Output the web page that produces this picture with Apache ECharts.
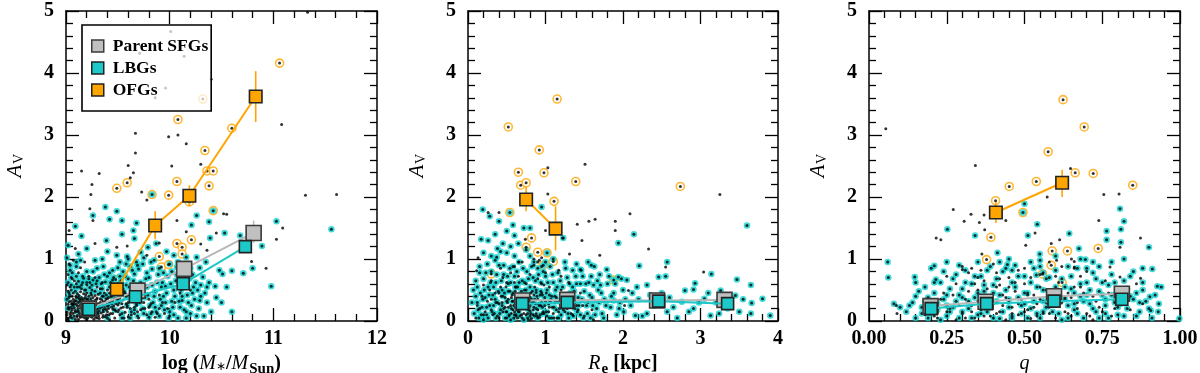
<!DOCTYPE html>
<html><head><meta charset="utf-8">
<script src="https://cdn.jsdelivr.net/npm/echarts@6/dist/echarts.min.js"></script>
<style>html,body{margin:0;padding:0;background:#fff}#c{width:1200px;height:373px}</style>
</head><body><div id="c"></div>
<script>
// ---------------- Panel 1: stellar mass ----------------
const p1_sfg = [[11.33,4.98],[10.01,4.67],[9.71,4.32],[10.14,4.27],[10.40,3.90],[9.96,3.76],[9.86,3.60],[11.08,3.17],[9.67,3.03],[10.08,3.00],[9.99,2.97],[10.16,2.86],[9.67,2.71],[9.15,2.42],[9.32,2.38],[9.60,2.51],[9.65,2.39],[9.62,2.31],[9.25,2.20],[10.02,2.50],[10.30,2.53],[9.24,2.04],[9.73,2.08],[9.78,1.95],[11.31,2.03],[11.61,2.04],[11.09,1.50],[11.03,1.32],[10.79,0.96],[10.93,0.85],[10.07,1.62],[10.52,1.73],[10.55,1.72],[9.23,1.81],[9.26,1.62],[9.03,1.46],[9.09,1.17],[9.28,1.25],[9.49,1.19],[9.59,1.21],[9.90,1.26],[9.78,1.06],[10.36,1.14],[10.45,1.42],[10.16,1.44],[10.30,1.24],
[9.02,0.05],[9.04,0.12],[9.05,0.22],[9.03,0.31],[9.06,0.40],[9.02,0.48],[9.08,0.08],[9.09,0.17],[9.1,0.27],[9.07,0.35],[9.11,0.44],[9.12,0.03],[9.13,0.12],[9.14,0.21],[9.12,0.30],[9.15,0.38],[9.16,0.07],[9.17,0.16],[9.18,0.26],[9.16,0.33],[9.19,0.42],[9.2,0.02],[9.21,0.11],[9.22,0.29],[9.24,0.36],[9.25,0.06],[9.26,0.15],[9.27,0.24],[9.25,0.32],[9.28,0.41],[9.29,0.09],[9.3,0.19],[9.31,0.28],[9.32,0.04],[9.33,0.36],[9.34,0.13],[9.35,0.23],[9.36,0.31],[9.37,0.45],[9.38,0.07],[9.39,0.18],[9.4,0.27],[9.41,0.38],[9.43,0.12],[9.44,0.22],[9.45,0.33],[9.47,0.05],[9.48,0.16],[9.5,0.26],[9.52,0.1],[9.53,0.21],[9.55,0.34],[9.57,0.14],[9.58,0.28],[9.6,0.07],[9.62,0.2],[9.64,0.31],[9.66,0.12],[9.68,0.25],[9.7,0.05],[9.72,0.18],[9.75,0.3],[9.78,0.1],[9.8,0.22],[9.83,0.15],[9.86,0.06],[9.9,0.2],[9.95,0.12],[10.0,0.08],[9.04,0.55],[9.1,0.6],[9.06,0.68],[9.15,0.52],[9.2,0.58],[9.25,0.5],[9.3,0.55],[9.35,0.62],[9.28,0.7],[9.4,0.5],[9.45,0.58],[9.02,0.75],[9.12,0.78],[9.22,0.72],[9.5,0.45],[9.55,0.52],[9.6,0.42],[9.65,0.48],[9.7,0.4],[9.8,0.35],[9.9,0.42],[10.05,0.3],[10.1,0.45],[10.2,0.5],[9.02,0.02],[9.05,0.15],[9.08,0.28],[9.1,0.38],[9.14,0.47],[9.18,0.05],[9.22,0.19],[9.27,0.03],[9.3,0.37],[9.34,0.27],[9.38,0.32],[9.42,0.02],[9.46,0.42],[9.03,0.92],[9.07,0.98],[9.14,0.86],[9.18,0.95],
[9.01,0.1],[9.03,0.19],[9.06,0.27],[9.09,0.33],[9.11,0.09],[9.13,0.25],[9.17,0.36],[9.19,0.13],[9.21,0.24],[9.23,0.08],[9.24,0.17],[9.28,0.2],[9.31,0.12],[9.33,0.21],[9.36,0.09],[9.4,0.15],[9.42,0.3],[9.46,0.24],[9.49,0.36],[9.51,0.18],[9.54,0.28],[9.56,0.05],[9.59,0.22],[9.63,0.1],[9.67,0.36],
[9.01,0.14],[9.02,0.27],[9.03,0.38],[9.04,0.06],[9.05,0.32],[9.06,0.18],[9.07,0.45],[9.08,0.21],[9.09,0.03],[9.1,0.32],[9.11,0.24],[9.12,0.16],[9.13,0.35],[9.14,0.06],[9.15,0.28],[9.16,0.2],[9.17,0.44],[9.18,0.31],[9.19,0.22],[9.2,0.35],[9.21,0.05],[9.22,0.4],[9.23,0.14],[9.24,0.27],[9.26,0.38],[9.27,0.1],[9.28,0.33],[9.29,0.25],[9.3,0.05],[9.31,0.43],[9.32,0.16],[9.33,0.3],[9.35,0.4],[9.36,0.15],[9.37,0.25],[9.39,0.1],[9.4,0.36],[9.41,0.2],[9.43,0.3],[9.45,0.12],[9.46,0.5],[9.48,0.28],[9.5,0.15],[9.52,0.38],[9.55,0.22],[9.57,0.45],[9.6,0.3],[9.63,0.38],[9.66,0.22],[9.69,0.15],[9.72,0.35],[9.76,0.2],[9.82,0.28],[9.88,0.12],[9.93,0.3],[9.98,0.2],[9.05,0.5],[9.11,0.55],[9.18,0.5],[9.23,0.62],[9.33,0.52],[9.42,0.45],[9.08,0.65],[9.2,0.45],[9.01,0.58],
[9.015,0.04],[9.025,0.22],[9.035,0.42],[9.045,0.09],[9.055,0.28],[9.065,0.12],[9.075,0.31],[9.085,0.14],[9.095,0.4],[9.105,0.07],[9.115,0.2],[9.125,0.41],[9.135,0.08],[9.145,0.34],[9.155,0.17],[9.165,0.25],[9.175,0.1],[9.185,0.38],[9.195,0.27],[9.205,0.16],[9.215,0.31],[9.225,0.1],[9.235,0.23],[9.245,0.42],[9.255,0.2],[9.265,0.3],[9.275,0.14],[9.285,0.06],[9.295,0.35],[9.305,0.22],[9.315,0.08],[9.325,0.26],[9.345,0.34],[9.355,0.06],[9.375,0.2],[9.385,0.36],[9.395,0.24],[9.415,0.1],[9.435,0.4],[9.455,0.19]];
const p1_lbg = [[9.38,1.84],[9.49,1.77],[9.26,1.70],[9.42,1.64],[9.54,1.62],[9.09,1.53],[9.68,1.58],[10.26,1.70],[10.21,1.55],[10.38,1.60],[10.53,1.42],[10.68,1.38],[11.03,1.61],[11.56,1.48],[10.89,1.21],[10.98,0.56],[10.80,0.85],[10.71,0.77],[10.60,0.81],[10.51,0.76],[10.44,0.56],[10.36,0.55],[10.29,0.86],[10.26,1.03],[10.39,1.34],[10.04,1.06],[10.16,1.03],[9.15,1.37],[9.20,1.17],[9.02,1.22],[9.39,1.30],[9.54,1.40],[9.65,1.46],[9.66,1.33],[9.79,1.19],[9.87,1.25],[9.72,1.11],[9.59,1.04],[9.49,1.06],[9.28,0.98],[9.14,0.98],[9.04,0.90],[9.69,0.90],[9.83,0.84],[10.07,0.87],[10.16,0.79],[10.32,0.71],[10.23,0.55],[10.12,0.33],[10.16,0.15],[10.29,0.33],
[9.02,0.62],[9.05,0.7],[9.08,0.55],[9.1,0.72],[9.12,0.64],[9.15,0.58],[9.17,0.69],[9.2,0.62],[9.23,0.54],[9.26,0.66],[9.29,0.6],[9.32,0.7],[9.35,0.52],[9.38,0.63],[9.4,0.72],[9.42,0.55],[9.45,0.66],[9.48,0.5],[9.5,0.6],[9.52,0.72],[9.55,0.44],[9.58,0.58],[9.6,0.68],[9.62,0.35],[9.64,0.52],[9.66,0.76],[9.68,0.28],[9.7,0.45],[9.72,0.62],[9.74,0.2],[9.76,0.38],[9.78,0.55],[9.8,0.7],[9.82,0.12],[9.84,0.3],[9.86,0.48],[9.88,0.62],[9.9,0.08],[9.92,0.25],[9.94,0.4],[9.96,0.56],[9.98,0.72],[10.0,0.15],[10.02,0.32],[10.04,0.5],[10.06,0.65],[10.08,0.05],[10.1,0.22],[10.12,0.4],[10.15,0.55],[10.18,0.3],[10.2,0.12],[10.22,0.45],[10.25,0.62],[10.28,0.2],[10.3,0.4],[10.33,0.08],[10.36,0.3],[9.04,0.82],[9.1,0.88],[9.2,0.8],[9.3,0.85],[9.45,0.82],[9.55,0.8],[9.62,0.88],[9.7,0.84],[9.78,0.78],[9.9,0.85],[10.0,0.92],[9.02,0.2],[9.06,0.05],[9.12,0.38],[9.18,0.1],[9.24,0.45],[9.3,0.14],[9.36,0.4],[9.4,0.05],[9.44,0.28],[9.5,0.35],[9.54,0.12],[9.58,0.4],[9.62,0.05],[9.66,0.18],[9.7,0.58],[9.74,0.48],[9.8,0.06],[9.86,0.22],[9.92,0.55],[9.96,0.3],[10.04,0.1],[10.1,0.6],[10.16,0.05],[10.24,0.35],[10.3,0.58],[9.52,0.95],[9.6,1.0],[9.68,0.95],[9.85,0.98],[10.15,0.9],[10.22,0.75],[10.4,0.15],[10.45,0.38],[9.1,0.95],
[9.01,0.35],[9.03,0.45],[9.05,0.58],[9.07,0.25],[9.09,0.48],[9.11,0.15],[9.13,0.55],[9.14,0.32],[9.16,0.62],[9.18,0.2],[9.19,0.5],[9.21,0.35],[9.22,0.68],[9.24,0.1],[9.25,0.58],[9.27,0.3],[9.28,0.48],[9.3,0.65],[9.31,0.22],[9.33,0.45],[9.34,0.6],[9.36,0.18],[9.37,0.75],[9.39,0.42],[9.41,0.25],[9.43,0.62],[9.44,0.4],[9.46,0.7],[9.47,0.18],[9.49,0.55],[9.51,0.3],[9.53,0.65],[9.54,0.05],[9.56,0.48],[9.57,0.72],[9.59,0.25],[9.61,0.55],[9.63,0.15],[9.65,0.65],[9.67,0.42],[9.69,0.08],[9.71,0.3],[9.73,0.52],[9.75,0.12],[9.77,0.68],[9.79,0.42],[9.81,0.25],[9.83,0.58],[9.85,0.4],[9.87,0.15],[9.89,0.75],[9.91,0.35],[9.93,0.62],[9.95,0.18],[9.97,0.45],[9.99,0.05],[10.01,0.6],[10.03,0.22],[10.05,0.4],[10.07,0.75],[10.09,0.32],[10.11,0.5],[10.14,0.18],[10.17,0.42],[10.19,0.68],[10.21,0.25],[10.26,0.08],[10.27,0.5],[10.34,0.45],[10.38,0.62],[9.06,0.78],[9.16,0.72],[9.26,0.8],[9.36,0.88],[9.42,0.78],[9.5,0.86],[9.58,0.92],[9.64,0.82],[9.74,0.92],[9.82,0.95],[9.94,0.78],[10.02,0.8],[10.08,0.95],[10.2,0.85],[9.01,1.02],[9.12,1.08],[9.35,1.0],[9.4,1.12],[9.75,1.02],[9.97,1.12],[10.35,0.95],[10.5,0.3],[10.55,0.55],[10.6,0.15],[10.48,0.82]];
const p1_ofg = [[11.06,4.16],[10.32,3.58],[10.08,3.25],[10.60,3.11],[10.34,2.75],[10.36,2.42],[10.42,2.42],[10.38,2.18],[10.07,2.25],[9.99,2.03],[10.19,1.92],[10.21,1.31],[10.07,1.25],[10.12,1.19],[10.12,1.08],[9.90,1.04],[9.92,0.87],[9.99,0.91],[9.48,0.67],[9.49,2.14],[9.59,2.23],[9.47,0.36]];
const p1_ofgLbg = [[9.83,2.04],[10.42,1.78]];
const p1_medSfg = [[9.22,0.20],[9.69,0.49],[10.14,0.84],[10.81,1.42]];
const p1_errSfg = [[0.16,0.24],[0.44,0.54],[0.78,0.90],[1.26,1.62]];
const p1_medLbg = [[9.22,0.19],[9.67,0.39],[10.13,0.60],[10.73,1.20]];
const p1_errLbg = [[0.16,0.22],[0.35,0.43],[0.55,0.65],[1.12,1.28]];
const p1_medOfg = [[9.49,0.51],[9.86,1.54],[10.19,2.02],[10.83,3.62]];
const p1_errOfg = [[0.42,0.63],[1.32,1.77],[1.85,2.19],[3.21,4.03]];

// ---------------- Panel 2: effective radius ----------------
const p2_sfg = [[1.51,2.53],[1.03,2.47],[3.25,2.04],[1.03,2.05],[2.09,1.73],[0.26,1.75],[0.40,1.75],[1.41,1.56],[1.56,1.61],[1.64,1.64],[1.90,1.61],[1.90,1.46],[1.0,1.46],[1.22,1.34],[1.47,1.30],[0.74,1.32],[2.33,1.16],[1.70,1.06],[1.31,1.08],[2.55,0.87],[3.04,0.79],[0.13,1.02],[0.11,0.81],[0.42,0.85],[1.17,0.82],[2.07,0.49],
[0.1,0.05],[0.15,0.2],[0.2,0.1],[0.25,0.32],[0.3,0.18],[0.35,0.45],[0.38,0.08],[0.4,0.28],[0.42,0.55],[0.45,0.15],[0.48,0.38],[0.5,0.05],[0.52,0.22],[0.54,0.48],[0.56,0.12],[0.58,0.32],[0.6,0.62],[0.62,0.08],[0.63,0.25],[0.65,0.42],[0.66,0.15],[0.68,0.35],[0.7,0.05],[0.72,0.2],[0.73,0.5],[0.75,0.1],[0.76,0.28],[0.78,0.4],[0.8,0.16],[0.82,0.04],[0.83,0.3],[0.85,0.22],[0.86,0.55],[0.88,0.12],[0.9,0.35],[0.92,0.06],[0.94,0.25],[0.95,0.45],[0.97,0.15],[1.0,0.32],[1.02,0.08],[1.05,0.22],[1.08,0.4],[1.1,0.12],[1.12,0.3],[1.15,0.05],[1.18,0.2],[1.2,0.5],[1.25,0.15],[1.3,0.35],[1.35,0.1],[1.4,0.25],[1.45,0.45],[1.5,0.08],[1.55,0.3],[1.6,0.18],[0.45,0.7],[0.55,0.78],[0.65,0.72],[0.8,0.75],[0.9,0.68],[1.0,0.78],[0.7,0.95],[0.85,1.0],[0.92,0.98],[0.95,1.02],[0.3,0.65],[0.2,0.58],[1.2,0.72],[1.3,0.62],[0.6,0.88],[0.52,0.35],[0.68,0.26],[0.74,0.36],[0.64,0.05],[0.58,0.18],[0.88,0.46],[0.78,0.02],[0.98,0.58],
[0.5,0.15],[0.55,0.25],[0.6,0.1],[0.62,0.4],[0.67,0.22],[0.7,0.3],[0.72,0.12],[0.77,0.2],[0.8,0.38],[0.84,0.1],[0.87,0.28],[0.9,0.18],[0.57,0.42],[0.48,0.22],[0.44,0.3],
[0.12,0.25],[0.18,0.4],[0.22,0.15],[0.28,0.5],[0.32,0.1],[0.36,0.3],[0.4,0.05],[0.43,0.4],[0.46,0.2],[0.49,0.55],[0.51,0.3],[0.53,0.08],[0.56,0.38],[0.59,0.25],[0.61,0.48],[0.63,0.18],[0.66,0.3],[0.69,0.1],[0.71,0.42],[0.73,0.22],[0.75,0.32],[0.77,0.12],[0.79,0.28],[0.81,0.45],[0.84,0.18],[0.86,0.35],[0.89,0.08],[0.91,0.28],[0.93,0.42],[0.96,0.12],[0.99,0.25],[1.01,0.45],[1.04,0.15],[1.06,0.32],[1.09,0.22],[1.11,0.05],[1.14,0.38],[1.17,0.15],[1.21,0.28],[1.24,0.4],[1.28,0.2],[1.33,0.12],[1.38,0.3],[1.42,0.18],[1.48,0.25],[0.6,0.15],[0.7,0.2],[0.8,0.08],[0.85,0.42],[0.75,0.6],[0.62,0.55],[0.95,0.6],[1.05,0.55],[0.5,0.62],[0.4,0.45],[0.3,0.35],[0.65,0.95],[0.9,0.95],[0.85,0.9],[0.95,0.88],[1.62,0.02],[2.02,0.25]];
const p2_lbg = [[0.19,1.80],[0.28,1.69],[0.40,1.61],[0.17,1.32],[0.26,1.30],[0.50,1.45],[0.60,1.38],[0.38,1.17],[0.37,1.03],[0.80,1.50],[0.95,1.84],[1.23,1.34],[2.14,1.40],[1.94,1.26],[1.59,0.90],[2.21,0.89],[2.57,0.95],[2.55,0.72],[3.14,0.76],[3.60,1.54],[3.47,0.67],[3.65,0.58],[3.80,0.36],[3.90,0.09],[3.65,0.12],[3.66,0.29],[2.91,0.51],[2.93,0.61],[2.80,0.49],[2.65,0.22],[2.76,0.31],[3.45,0.41],[3.26,0.49],[3.24,0.12],[3.05,0.36],[2.31,0.58],[2.18,0.55],[2.46,0.71],[2.05,0.66],[1.94,0.71],[1.79,0.83],[1.45,0.83],[1.71,0.58],[1.62,0.58],[2.31,0.12],[2.16,0.09],[2.01,0.15],[1.88,0.33],[2.57,0.15],[2.91,0.20],[3.13,0.09],
[0.08,0.12],[0.12,0.3],[0.14,0.05],[0.16,0.45],[0.18,0.22],[0.2,0.68],[0.22,0.38],[0.24,0.1],[0.26,0.55],[0.28,0.25],[0.3,0.8],[0.32,0.42],[0.34,0.12],[0.36,0.62],[0.38,0.3],[0.4,0.9],[0.42,0.18],[0.44,0.5],[0.46,0.75],[0.48,0.05],[0.5,0.32],[0.52,0.6],[0.54,0.85],[0.56,0.2],[0.58,0.45],[0.6,0.72],[0.62,0.1],[0.64,0.55],[0.66,0.95],[0.68,0.3],[0.7,0.65],[0.72,0.02],[0.74,0.42],[0.76,0.8],[0.78,0.18],[0.8,0.55],[0.82,0.35],[0.84,0.7],[0.86,0.08],[0.88,0.5],[0.9,0.85],[0.92,0.25],[0.94,0.62],[0.96,0.42],[0.98,0.12],[1.0,0.72],[1.02,0.5],[1.04,0.28],[1.06,0.88],[1.08,0.05],[1.1,0.62],[1.12,0.4],[1.14,0.18],[1.16,0.78],[1.18,0.32],[1.2,0.1],[1.22,0.55],[1.25,0.25],[1.28,0.7],[1.3,0.05],[1.32,0.45],[1.35,0.82],[1.38,0.2],[1.4,0.6],[1.42,0.38],[1.45,0.1],[1.48,0.72],[1.5,0.48],[1.53,0.25],[1.56,0.62],[1.58,0.05],[1.6,0.38],[1.63,0.88],[1.66,0.2],[1.68,0.5],[1.7,0.75],[1.73,0.12],[1.76,0.35],[1.8,0.6],[1.84,0.22],[1.88,0.45],[1.92,0.1],[1.96,0.3],[2.0,0.5],[0.1,0.65],[0.15,0.78],[0.25,0.92],[0.35,0.98],[0.5,1.1],[0.6,1.05],[0.75,1.15],[0.85,0.95],[1.0,0.95],[1.1,1.0],[1.25,0.95],[1.4,0.92],[1.55,0.95],[1.45,0.6],[0.05,0.3],[0.07,0.5],[0.2,0.02],[0.33,0.25],[0.45,0.4],[0.55,0.02],[0.65,0.15],[0.7,0.38],[0.8,0.25],[0.9,0.05],[0.95,0.3],[1.05,0.42],[1.15,0.55],[1.2,0.35],[1.35,0.55],
[0.1,0.4],[0.12,0.55],[0.13,0.18],[0.15,0.88],[0.17,0.1],[0.19,0.35],[0.21,0.5],[0.23,0.78],[0.24,0.22],[0.26,0.05],[0.27,0.42],[0.29,0.62],[0.31,0.15],[0.33,0.55],[0.35,0.35],[0.36,0.05],[0.37,0.75],[0.39,0.48],[0.41,0.12],[0.43,0.65],[0.44,0.25],[0.46,0.9],[0.47,0.45],[0.49,0.15],[0.51,0.72],[0.52,0.48],[0.53,0.1],[0.55,0.62],[0.57,0.32],[0.58,0.88],[0.59,0.05],[0.61,0.55],[0.62,0.25],[0.63,0.8],[0.65,0.38],[0.66,0.62],[0.67,0.08],[0.69,0.48],[0.71,0.85],[0.72,0.28],[0.73,0.62],[0.75,0.5],[0.77,0.05],[0.78,0.68],[0.79,0.35],[0.81,0.12],[0.82,0.88],[0.83,0.48],[0.85,0.3],[0.87,0.65],[0.88,0.2],[0.89,0.4],[0.91,0.75],[0.93,0.1],[0.94,0.48],[0.96,0.22],[0.97,0.8],[0.99,0.38],[1.01,0.15],[1.03,0.62],[1.05,0.05],[1.07,0.35],[1.09,0.75],[1.11,0.22],[1.13,0.5],[1.15,0.32],[1.17,0.05],[1.19,0.65],[1.21,0.42],[1.23,0.18],[1.26,0.85],[1.27,0.4],[1.29,0.12],[1.31,0.6],[1.33,0.3],[1.36,0.08],[1.37,0.48],[1.39,0.72],[1.41,0.15],[1.43,0.25],[1.46,0.82],[1.47,0.35],[1.49,0.05],[1.52,0.6],[1.54,0.12],[1.57,0.42],[1.59,0.72],[1.61,0.25],[1.64,0.1],[1.67,0.65],[1.69,0.3],[1.72,0.45],[1.75,0.05],[1.78,0.25],[1.82,0.72],[1.85,0.4],[1.9,0.6],[1.95,0.2],[1.98,0.68],[2.03,0.35],[2.1,0.25],[2.12,0.45],[2.2,0.35],[2.25,0.08],[2.35,0.42],[2.4,0.25],[2.5,0.45],[2.6,0.38],[2.7,0.05],[2.85,0.15],[2.98,0.3],[3.1,0.45],[3.2,0.3],[3.35,0.2],[3.5,0.15],[3.55,0.35],[0.3,1.05],[0.42,1.12],[0.55,1.2],[0.65,1.25],[0.8,1.05],[0.45,1.25],[0.2,1.1],[0.58,1.55],[0.35,1.4],[0.72,1.5]];
const p2_ofg = [[1.15,3.58],[0.52,3.13],[0.92,2.76],[0.65,2.40],[0.98,2.39],[0.68,2.19],[0.75,2.23],[1.39,2.25],[2.74,2.17],[1.11,1.93],[0.82,1.34],[0.75,1.19],[0.90,1.11],[1.10,0.96],[0.30,0.76]];
const p2_ofgLbg = [[0.54,1.75],[1.02,1.10],[0.97,0.90],[1.88,0.66]];
const p2_medSfg = [[0.70,0.33],[1.28,0.34],[2.44,0.33],[3.31,0.34]];
const p2_errSfg = [[0.30,0.37],[0.31,0.38],[0.30,0.37],[0.30,0.39]];
const p2_medLbg = [[0.70,0.28],[1.28,0.30],[2.46,0.32],[3.35,0.28]];
const p2_errLbg = [[0.26,0.31],[0.27,0.33],[0.29,0.35],[0.25,0.32]];
const p2_medOfg = [[0.75,1.96],[1.13,1.49]];
const p2_errOfg = [[1.77,2.16],[1.14,1.85]];

// ---------------- Panel 3: axis ratio ----------------
const p3_sfg = [[0.054,3.10],[0.342,2.51],[0.648,2.46],[0.573,2.0],[0.755,2.04],[0.804,2.05],[0.271,1.80],[0.328,1.72],[0.370,1.71],[0.306,1.61],[0.355,1.59],[0.440,1.62],[0.739,1.62],[0.372,1.47],[0.534,1.42],[0.216,1.34],[0.231,1.31],[0.873,1.34],[0.504,1.22],[0.586,1.25],[0.613,1.31],[0.807,1.19],[0.363,1.08],[0.651,1.0],[0.66,0.96],[0.603,0.98],[0.66,0.87],[0.775,0.87],[0.807,0.71],[0.873,0.69],[0.30,0.83],[0.088,0.25],[0.09,0.12],
[0.18,0.1],[0.2,0.3],[0.22,0.05],[0.24,0.45],[0.26,0.2],[0.28,0.6],[0.3,0.12],[0.31,0.35],[0.32,0.78],[0.33,0.25],[0.34,0.05],[0.35,0.5],[0.36,0.18],[0.37,0.65],[0.38,0.38],[0.39,0.08],[0.4,0.28],[0.41,0.55],[0.42,0.15],[0.43,0.42],[0.44,0.02],[0.45,0.7],[0.46,0.22],[0.47,0.48],[0.48,0.1],[0.49,0.35],[0.5,0.6],[0.51,0.18],[0.52,0.04],[0.53,0.42],[0.54,0.28],[0.55,0.75],[0.56,0.12],[0.57,0.5],[0.58,0.22],[0.6,0.05],[0.61,0.62],[0.62,0.3],[0.63,0.15],[0.64,0.45],[0.65,0.08],[0.66,0.85],[0.67,0.3],[0.68,0.55],[0.7,0.12],[0.72,0.4],[0.74,0.22],[0.76,0.65],[0.78,0.08],[0.8,0.35],[0.82,0.5],[0.84,0.18],[0.86,0.6],[0.88,0.28],[0.3,0.88],[0.36,0.82],[0.4,0.92],[0.5,0.85],[0.58,0.95],[0.62,0.88],[0.7,0.8],[0.25,0.72],[0.42,0.68],[0.52,0.7],[0.35,0.32],[0.45,0.3],[0.55,0.35],[0.65,0.38],[0.28,0.02],[0.72,0.02],
[0.19,0.2],[0.21,0.08],[0.23,0.35],[0.25,0.15],[0.27,0.42],[0.29,0.25],[0.31,0.05],[0.32,0.48],[0.33,0.15],[0.34,0.6],[0.36,0.25],[0.37,0.08],[0.38,0.52],[0.39,0.32],[0.41,0.12],[0.42,0.58],[0.43,0.25],[0.44,0.38],[0.46,0.12],[0.47,0.62],[0.48,0.28],[0.5,0.15],[0.51,0.42],[0.53,0.22],[0.54,0.08],[0.55,0.55],[0.57,0.3],[0.58,0.12],[0.59,0.48],[0.61,0.25],[0.63,0.38],[0.64,0.12],[0.66,0.55],[0.67,0.2],[0.69,0.45],[0.71,0.08],[0.73,0.32],[0.75,0.15],[0.77,0.45],[0.79,0.2],[0.81,0.38],[0.35,0.7],[0.45,0.55],[0.6,0.72],[0.68,0.72],[0.48,0.82],[0.41,0.78],[0.33,0.85]];
const p3_lbg = [[0.06,0.95],[0.062,0.70],[0.252,1.48],[0.341,1.38],[0.50,1.89],[0.511,1.38],[0.541,1.56],[0.644,1.41],[0.675,1.17],[0.696,0.99],[0.764,1.45],[0.764,1.31],[0.807,1.81],[0.81,1.48],[0.82,1.61],[0.81,1.27],[0.90,1.19],[0.911,0.84],[0.927,0.56],[0.903,0.39],[0.906,0.17],[0.932,0.28],[0.998,0.04],[0.21,0.89],[0.215,0.67],[0.147,0.71],[0.413,1.10],[0.445,0.91],[0.549,1.08],[0.538,0.74],
[0.12,0.15],[0.14,0.3],[0.15,0.05],[0.16,0.48],[0.17,0.22],[0.18,0.55],[0.19,0.38],[0.2,0.12],[0.21,0.62],[0.22,0.28],[0.23,0.02],[0.24,0.8],[0.25,0.42],[0.26,0.15],[0.27,0.68],[0.28,0.32],[0.29,0.05],[0.3,0.52],[0.31,0.82],[0.32,0.2],[0.33,0.6],[0.34,0.38],[0.35,0.1],[0.36,0.72],[0.37,0.48],[0.38,0.15],[0.39,0.88],[0.4,0.58],[0.41,0.32],[0.42,0.04],[0.43,0.8],[0.44,0.5],[0.45,0.22],[0.46,0.62],[0.47,0.9],[0.48,0.38],[0.49,0.12],[0.5,0.72],[0.51,0.45],[0.52,0.2],[0.53,0.85],[0.54,0.55],[0.55,0.05],[0.56,0.32],[0.57,0.68],[0.58,0.45],[0.59,0.15],[0.6,0.82],[0.61,0.42],[0.62,0.02],[0.63,0.55],[0.64,0.25],[0.65,0.72],[0.66,0.45],[0.67,0.12],[0.68,0.6],[0.69,0.32],[0.7,0.85],[0.71,0.5],[0.72,0.2],[0.73,0.68],[0.74,0.05],[0.75,0.42],[0.76,0.25],[0.77,0.58],[0.78,0.75],[0.79,0.3],[0.8,0.1],[0.81,0.5],[0.82,0.65],[0.83,0.2],[0.84,0.4],[0.86,0.08],[0.87,0.3],[0.88,0.5],[0.9,0.2],[0.92,0.42],[0.08,0.28],[0.1,0.22],[0.2,0.85],[0.35,0.95],[0.45,1.0],[0.55,0.98],[0.68,1.0],[0.78,0.95],[0.85,0.8],[0.15,0.62],[0.25,0.25],[0.36,0.3],[0.46,0.05],[0.56,0.15],[0.66,0.28],[0.76,0.12],[0.3,0.38],[0.4,0.45],[0.5,0.28],[0.6,0.3],[0.7,0.42],[0.8,0.22],
[0.13,0.25],[0.15,0.4],[0.17,0.12],[0.18,0.32],[0.19,0.05],[0.21,0.45],[0.22,0.18],[0.23,0.62],[0.24,0.35],[0.25,0.08],[0.26,0.52],[0.27,0.22],[0.28,0.75],[0.29,0.42],[0.3,0.15],[0.31,0.62],[0.32,0.32],[0.33,0.05],[0.34,0.72],[0.35,0.45],[0.36,0.12],[0.37,0.58],[0.38,0.82],[0.39,0.25],[0.4,0.05],[0.41,0.68],[0.42,0.42],[0.43,0.15],[0.44,0.85],[0.45,0.35],[0.46,0.08],[0.47,0.55],[0.48,0.72],[0.49,0.25],[0.5,0.45],[0.51,0.05],[0.52,0.62],[0.53,0.32],[0.54,0.12],[0.55,0.88],[0.56,0.5],[0.57,0.22],[0.58,0.7],[0.59,0.38],[0.6,0.55],[0.61,0.12],[0.62,0.68],[0.63,0.35],[0.64,0.05],[0.65,0.52],[0.66,0.18],[0.67,0.85],[0.68,0.4],[0.69,0.05],[0.7,0.62],[0.71,0.28],[0.72,0.78],[0.73,0.15],[0.74,0.48],[0.75,0.62],[0.76,0.35],[0.77,0.05],[0.78,0.42],[0.79,0.62],[0.8,0.45],[0.81,0.28],[0.82,0.08],[0.83,0.52],[0.84,0.72],[0.85,0.35],[0.86,0.45],[0.87,0.15],[0.88,0.62],[0.89,0.32],[0.91,0.05],[0.93,0.15],[0.94,0.55],[0.29,0.9],[0.42,0.95],[0.52,0.95],[0.6,1.05],[0.72,0.95],[0.82,1.0],[0.88,0.85],[0.25,0.95],[0.46,0.82],[0.56,0.78],[0.64,0.88],[0.74,0.88]];
const p3_ofg = [[0.624,3.57],[0.692,3.13],[0.576,2.73],[0.663,2.39],[0.721,2.38],[0.538,2.25],[0.451,2.17],[0.848,2.19],[0.407,1.94],[0.392,1.35],[0.378,0.99],[0.589,1.13],[0.638,1.13],[0.737,1.17],[0.586,0.90],[0.558,0.76],[0.621,0.62]];
const p3_ofgLbg = [[0.495,1.75]];
const p3_medSfg = [[0.198,0.24],[0.375,0.31],[0.595,0.40],[0.813,0.44]];
const p3_errSfg = [[0.21,0.27],[0.28,0.34],[0.37,0.43],[0.40,0.48]];
const p3_medLbg = [[0.20,0.20],[0.378,0.28],[0.595,0.32],[0.813,0.35]];
const p3_errLbg = [[0.17,0.23],[0.25,0.31],[0.29,0.35],[0.31,0.39]];
const p3_medOfg = [[0.408,1.75],[0.621,2.23]];
const p3_errOfg = [[1.58,1.92],[2.0,2.44]];

// axis settings
const xMin = [9, 0, 0], xMax = [12, 4, 1], xInt = [1, 1, 0.25];
const yMin = 0, yMax = 5, yInt = 1;
const names = ['Parent SFGs', 'LBGs', 'OFGs'];

const SERIF = 'Liberation Serif';
const CYAN = '#12cfd0', ORANGE = '#ffa500', GREY = '#c0c0c0';

const panels = [
  {sfg:p1_sfg,lbg:p1_lbg,ofg:p1_ofg,ofgLbg:p1_ofgLbg,mS:p1_medSfg,eS:p1_errSfg,mL:p1_medLbg,eL:p1_errLbg,mO:p1_medOfg,eO:p1_errOfg},
  {sfg:p2_sfg,lbg:p2_lbg,ofg:p2_ofg,ofgLbg:p2_ofgLbg,mS:p2_medSfg,eS:p2_errSfg,mL:p2_medLbg,eL:p2_errLbg,mO:p2_medOfg,eO:p2_errOfg},
  {sfg:p3_sfg,lbg:p3_lbg,ofg:p3_ofg,ofgLbg:p3_ofgLbg,mS:p3_medSfg,eS:p3_errSfg,mL:p3_medLbg,eL:p3_errLbg,mO:p3_medOfg,eO:p3_errOfg}
];

const grids = [
  {left:66, top:11, width:311, height:310},
  {left:468, top:11, width:310, height:310},
  {left:869, top:11, width:311, height:310}
];

const xNames = [
  '{b|log (}{i|M}{s|∗}{b|/}{i|M}{sub|Sun}{b|)}',
  '{i|R}{sub|e}{b| [kpc]}',
  '{i|q}'
];
const nameRich = {
  b: {fontFamily:SERIF, fontWeight:'bold', fontSize:20, color:'#000', verticalAlign:'top'},
  i: {fontFamily:SERIF, fontStyle:'italic', fontSize:20, color:'#000', verticalAlign:'top'},
  s: {fontFamily:SERIF, fontSize:12, color:'#000', verticalAlign:'top', padding:[7,0,0,0]},
  sub: {fontFamily:SERIF, fontWeight:'bold', fontSize:15, color:'#000', verticalAlign:'top', padding:[8,0,0,1]}
};

function baseAxis(extra){
  return Object.assign({
    type:'value',
    axisLine:{show:true, onZero:false, lineStyle:{color:'#000', width:1.5}},
    axisTick:{show:true, inside:true, length:13, lineStyle:{color:'#000', width:1.3}},
    minorTick:{show:true, splitNumber:5, length:7, lineStyle:{color:'#000', width:1.3}},
    splitLine:{show:false}, minorSplitLine:{show:false}
  }, extra);
}

const xAxes = [], yAxes = [];
for (let i = 0; i < 3; i++) {
  xAxes.push(baseAxis({
    gridIndex:i, position:'bottom', min:xMin[i], max:xMax[i], interval:xInt[i],
    axisLabel:{show:true, margin:8, fontFamily:SERIF, fontWeight:'bold', fontSize:20, color:'#000',
      showMinLabel:true, showMaxLabel:true, hideOverlap:false,
      formatter: i === 2 ? (v => v.toFixed(2)) : (v => String(v))},
    name:xNames[i], nameLocation:'middle', nameGap:25, nameTextStyle:{rich:nameRich}
  }));
}
for (let i = 0; i < 3; i++) {
  xAxes.push(baseAxis({gridIndex:i, position:'top', min:xMin[i], max:xMax[i], interval:xInt[i], axisLabel:{show:false}}));
}
for (let i = 0; i < 3; i++) {
  yAxes.push(baseAxis({
    gridIndex:i, position:'left', min:yMin, max:yMax, interval:yInt,
    axisLabel:{show:true, margin:12, fontFamily:SERIF, fontWeight:'bold', fontSize:20, color:'#000', showMinLabel:true, showMaxLabel:true}
  }));
}
for (let i = 0; i < 3; i++) {
  yAxes.push(baseAxis({gridIndex:i, position:'right', min:yMin, max:yMax, interval:yInt, axisLabel:{show:false}}));
}

function errSeries(i, med, err, color, z){
  return {
    type:'custom', xAxisIndex:i, yAxisIndex:i, z:z, silent:true,
    data: med.map((m, k) => [m[0], err[k][0], err[k][1]]),
    encode:{x:0, y:[1,2]},
    renderItem:(params, api) => {
      const a = api.coord([api.value(0), api.value(1)]);
      const b = api.coord([api.value(0), api.value(2)]);
      return {type:'line', shape:{x1:a[0], y1:a[1], x2:b[0], y2:b[1]}, style:{stroke:color, lineWidth:1.6}};
    }
  };
}
function medSeries(i, name, med, fill, line, border, size, z){
  return {
    type:'line', name:name, xAxisIndex:i, yAxisIndex:i, z:z, data:med,
    symbol:'rect', symbolSize:size, showSymbol:true,
    lineStyle:{color:line, width:2},
    itemStyle:{color:fill, borderColor:border, borderWidth:1.6},
    emphasis:{disabled:true}
  };
}

const series = [];
panels.forEach((p, i) => {
  series.push({type:'scatter', xAxisIndex:i, yAxisIndex:i, z:2, silent:true,
    data:p.ofg.concat(p.ofgLbg), symbol:'circle', symbolSize:8,
    itemStyle:{color:'#fff', borderColor:ORANGE, borderWidth:1.6}});
  series.push({type:'scatter', xAxisIndex:i, yAxisIndex:i, z:3, silent:true,
    data:p.lbg.concat(p.ofgLbg), symbol:'circle', symbolSize:6.5,
    itemStyle:{color:CYAN}});
  series.push({type:'scatter', xAxisIndex:i, yAxisIndex:i, z:4, silent:true,
    data:p.sfg.concat(p.lbg, p.ofg, p.ofgLbg), symbol:'circle', symbolSize:3,
    itemStyle:{color:'#000'}});
  series.push(errSeries(i, p.mS, p.eS, '#bdbdbd', 5));
  series.push(errSeries(i, p.mL, p.eL, CYAN, 5));
  series.push(errSeries(i, p.mO, p.eO, ORANGE, 5));
  series.push(medSeries(i, names[0], p.mS, GREY, '#b8b8b8', '#3a3a3a', 15, 6));
  series.push(medSeries(i, names[1], p.mL, '#1cc8c8', '#1cc8c8', '#222', 12, 7));
  series.push(medSeries(i, names[2], p.mO, ORANGE, ORANGE, '#222', 12.5, 8));
});

// rotated y-axis titles: italic "A" with subscript "V", reading bottom-to-top
const yTitles = [];
grids.forEach(g => {
  yTitles.push({type:'text', x:g.left - 51, y:171, rotation:Math.PI / 2, z:30, silent:true,
    style:{text:'A', fontFamily:SERIF, fontStyle:'italic', fontSize:21, fill:'#000', align:'center', verticalAlign:'middle'}});
  yTitles.push({type:'text', x:g.left - 47, y:159, rotation:Math.PI / 2, z:30, silent:true,
    style:{text:'V', fontFamily:SERIF, fontSize:14, fill:'#000', align:'center', verticalAlign:'middle'}});
});

const chart = echarts.init(document.getElementById('c'), null, {renderer:'canvas'});
chart.setOption({
  animation:false,
  backgroundColor:'#fff',
  grid: grids.map(g => Object.assign({outerBoundsMode:'none', containLabel:false}, g)),
  xAxis: xAxes,
  yAxis: yAxes,
  graphic: yTitles,
  legend: {
    show:true, orient:'vertical', left:82, top:25, z:20,
    backgroundColor:'rgba(255,255,255,0.72)', borderColor:'#000', borderWidth:1.6,
    padding:[12,3,12,9], itemGap:4, itemWidth:12, itemHeight:12, selectedMode:false,
    textStyle:{fontFamily:SERIF, fontWeight:'bold', fontSize:17.5, color:'#000', padding:[0,0,0,4]},
    data:[
      {name:names[0], icon:'rect', itemStyle:{color:GREY, borderColor:'#3a3a3a', borderWidth:1.5}},
      {name:names[1], icon:'rect', itemStyle:{color:'#1cc8c8', borderColor:'#222', borderWidth:1.5}},
      {name:names[2], icon:'rect', itemStyle:{color:ORANGE, borderColor:'#222', borderWidth:1.5}}
    ]
  },
  series: series
});
</script></body></html>
